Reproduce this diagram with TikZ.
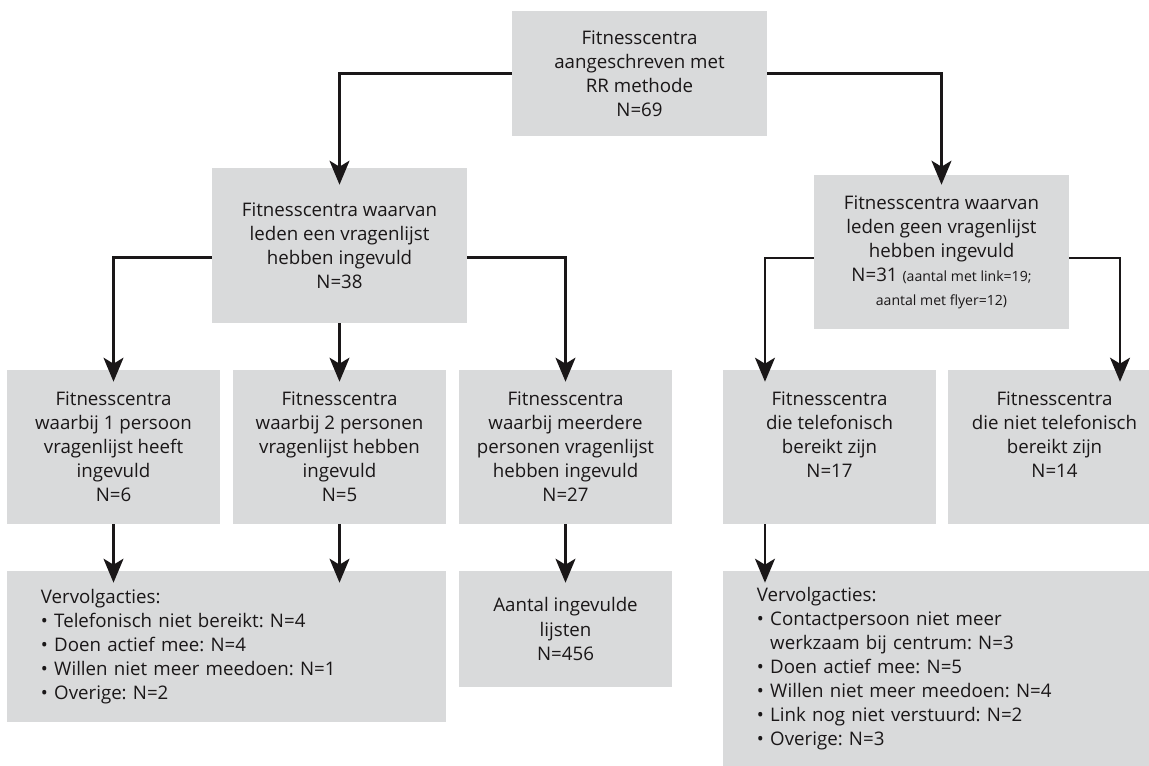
\documentclass[tikz,border=0pt]{standalone}
\usepackage{fontspec}
\setmainfont{Open Sans}
\usetikzlibrary{arrows.meta}
\definecolor{blokgrijs}{HTML}{D9DADB}
\definecolor{tekst}{HTML}{1A1718}
\newcommand{\bul}{\textbullet\ }
\newcommand{\klein}{\fontsize{10}{17.1}\selectfont}
\frenchspacing

\begin{document}
\begin{tikzpicture}[x=0.025cm,y=-0.025cm, font=\fontsize{13.3}{17.1}\selectfont, text=tekst,
 blk/.style={fill=blokgrijs,align=center,inner sep=0pt},
 lst/.style={fill=blokgrijs,align=left,inner xsep=0.85cm,inner ysep=0pt},
 arr/.style={-{Stealth[length=0.6cm,width=0.5cm,inset=0.15cm]},line width=1.6pt,draw=tekst}]
\useasboundingbox (0,0) rectangle (1149,766);
\node[blk,minimum width=6.375cm,minimum height=3.125cm] (rr) at (639.5,73.5) {Fitnesscentra\\aangeschreven met\\RR methode\\N=69};
\node[blk,minimum width=6.375cm,minimum height=3.875cm] (wel) at (339.5,245.5) {Fitnesscentra waarvan\\leden een vragenlijst\\hebben ingevuld\\N=38};
\node[blk,minimum width=6.375cm,minimum height=3.85cm] (geen) at (941.5,252) {Fitnesscentra waarvan\\leden geen vragenlijst\\hebben ingevuld\\N=31 {\klein (aantal met link=19;}\\{\klein aantal met flyer=12)}};
\node[blk,minimum width=5.325cm,minimum height=3.85cm] (een) at (113.5,447) {Fitnesscentra\\waarbij 1 persoon\\vragenlijst heeft\\ingevuld\\N=6};
\node[blk,minimum width=5.325cm,minimum height=3.85cm] (twee) at (339.5,447) {Fitnesscentra\\waarbij 2 personen\\vragenlijst hebben\\ingevuld\\N=5};
\node[blk,minimum width=5.325cm,minimum height=3.85cm] (meer) at (565.5,447) {Fitnesscentra\\waarbij meerdere\\personen vragenlijst\\hebben ingevuld\\N=27};
\node[blk,minimum width=5.325cm,minimum height=3.85cm] (tel) at (829.5,447) {Fitnesscentra\\die telefonisch\\bereikt zijn\\N=17\\~};
\node[blk,minimum width=5.325cm,minimum height=3.85cm] (niettel) at (1054.5,447) {Fitnesscentra\\die niet telefonisch\\bereikt zijn\\N=14\\~};
\node[lst,text width=9.275cm,minimum height=3.775cm] (vervolgwel) at (226.5,646.5) {Vervolgacties:\\\bul Telefonisch niet bereikt: N=4\\\bul Doen actief mee: N=4\\\bul Willen niet meer meedoen: N=1\\\bul Overige: N=2};
\node[blk,minimum width=5.325cm,minimum height=2.9cm] (lijsten) at (565.5,629) {Aantal ingevulde\\lijsten\\N=456};
\node[lst,text width=9.275cm,minimum height=4.875cm] (vervolgtel) at (942.5,668.5) {Vervolgacties:\\\bul Contactpersoon niet meer\\\phantom{\bul}werkzaam bij centrum: N=3\\\bul Doen actief mee: N=5\\\bul Willen niet meer meedoen: N=4\\\bul Link nog niet verstuurd: N=2\\\bul Overige: N=3};
\draw[arr] (rr.west) -| ([yshift=-0.425cm]wel.north);
\draw[arr] (rr.east) -| ([yshift=-0.25cm]geen.north);
\draw[arr] ([yshift=-0.3cm]wel.west) -| ([yshift=-0.3cm]een.north);
\draw[arr] (wel) -- ([yshift=-0.3cm]twee.north);
\draw[arr] ([yshift=-0.3cm]wel.east) -| ([yshift=-0.3cm]meer.north);
\draw[arr] ([yshift=-0.15cm]geen.west) -| ([xshift=-1.6125cm,yshift=-0.3cm]tel.north);
\draw[arr] ([yshift=-0.15cm]geen.east) -| ([xshift=1.6375cm,yshift=-0.3cm]niettel.north);
\draw[arr] (een) -- ([yshift=-0.3cm]een.south |- vervolgwel.north);
\draw[arr] (twee) -- ([yshift=-0.3cm]twee.south |- vervolgwel.north);
\draw[arr] (meer) -- ([yshift=-0.3cm]meer.south |- lijsten.north);
\draw[arr] ([xshift=-1.6125cm]tel.south) -- ([xshift=-1.6125cm,yshift=-0.3cm]tel.south |- vervolgtel.north);
\end{tikzpicture}
\end{document}
